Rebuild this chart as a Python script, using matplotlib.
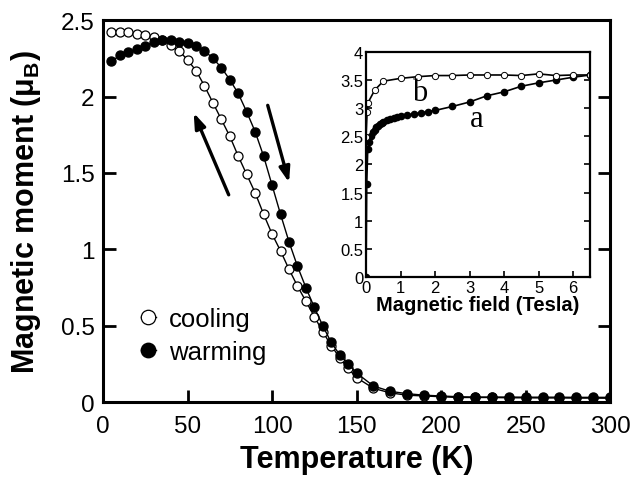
import matplotlib
matplotlib.use("Agg")
import matplotlib.pyplot as plt
from matplotlib.ticker import FuncFormatter

plt.rcParams['font.family'] = ['Liberation Sans', 'DejaVu Sans']
plt.rcParams['mathtext.fontset'] = 'custom'
plt.rcParams['mathtext.rm'] = 'Liberation Sans'
plt.rcParams['mathtext.bf'] = 'Liberation Sans:bold'

# main panel: magnetic moment vs temperature
temp_cool = [5, 10, 15, 20, 25, 30, 35, 40, 45, 50, 55, 60, 65, 70, 75, 80, 85, 90,
             95, 100, 105, 110, 115, 120, 125, 130, 135, 140, 145, 150,
             160, 170, 180, 190, 200, 210, 220, 230, 240, 250, 260, 270, 280, 290, 300]
m_cool = [2.42, 2.42, 2.42, 2.41, 2.40, 2.39, 2.37, 2.34, 2.30, 2.24, 2.17, 2.07, 1.96,
          1.85, 1.74, 1.61, 1.49, 1.37, 1.23, 1.10, 0.99, 0.87, 0.76, 0.66, 0.56, 0.46,
          0.37, 0.29, 0.22, 0.16,
          0.09, 0.06, 0.045, 0.04, 0.035, 0.03, 0.03, 0.03, 0.028, 0.028, 0.027, 0.027,
          0.026, 0.026, 0.025]

temp_warm = [5, 10, 15, 20, 25, 30, 35, 40, 45, 50, 55, 60, 65, 70, 75, 80, 85, 90,
             95, 100, 105, 110, 115, 120, 125, 130, 135, 140, 145, 150,
             160, 170, 180, 190, 200, 210, 220, 230, 240, 250, 260, 270, 280, 290, 300]
m_warm = [2.23, 2.27, 2.29, 2.31, 2.33, 2.36, 2.37, 2.37, 2.36, 2.35, 2.33, 2.30, 2.25,
          2.19, 2.11, 2.02, 1.90, 1.77, 1.61, 1.42, 1.23, 1.05, 0.89, 0.75, 0.62, 0.50,
          0.39, 0.31, 0.25, 0.19,
          0.105, 0.07, 0.055, 0.045, 0.04, 0.035, 0.033, 0.033, 0.033, 0.032, 0.032,
          0.032, 0.031, 0.031, 0.031]

# inset: magnetization vs field
field_a = [0, 0.02, 0.05, 0.1, 0.15, 0.2, 0.25, 0.3, 0.35, 0.4, 0.45, 0.5, 0.6, 0.7,
           0.8, 0.9, 1.0, 1.2, 1.4, 1.6, 1.8, 2.0, 2.5, 3.0, 3.5, 4.0, 4.5, 5.0, 5.5,
           6.0, 6.5]
m_a = [0, 1.66, 2.27, 2.40, 2.50, 2.57, 2.62, 2.66, 2.69, 2.72, 2.74, 2.76, 2.79, 2.81,
       2.83, 2.85, 2.86, 2.88, 2.90, 2.92, 2.94, 2.96, 3.03, 3.11, 3.22, 3.29, 3.39,
       3.45, 3.50, 3.55, 3.59]

field_b = [0, 0.03, 0.06, 0.25, 0.5, 1.0, 1.5, 2.0, 2.5, 3.0, 3.5, 4.0, 4.5, 5.0, 5.5,
           6.0, 6.5]
m_b = [2.48, 2.93, 3.10, 3.32, 3.48, 3.53, 3.56, 3.58, 3.58, 3.59, 3.59, 3.59, 3.58,
       3.61, 3.58, 3.59, 3.59]

fig = plt.figure(figsize=(6.3, 4.81), dpi=100)
ax = fig.add_axes([0.1635, 0.162, 0.805, 0.794])

ax.plot(temp_cool, m_cool, '-o', color='black', lw=1.0, ms=6.5,
        mfc='white', mec='black', mew=0.9, label='cooling')
ax.plot(temp_warm, m_warm, '-o', color='black', lw=1.0, ms=6.5,
        mfc='black', mec='black', label='warming')

ax.set_xlim(0, 300)
ax.set_ylim(0, 2.5)
ax.set_xticks(range(0, 301, 50))
ax.set_yticks([0, 0.5, 1, 1.5, 2, 2.5])
ax.yaxis.set_major_formatter(FuncFormatter(lambda v, p: '%g' % v))
ax.tick_params(direction='in', length=9, width=2, labelsize=17.5, right=True)
ax.tick_params(axis='x', pad=9)
ax.tick_params(axis='y', pad=6)
for s in ax.spines.values():
    s.set_linewidth(2.2)
ax.set_xlabel('Temperature (K)', fontsize=22, fontweight='bold', labelpad=5)
ax.set_ylabel(r'Magnetic moment (μ$_\mathbf{B}$)', fontsize=22, fontweight='bold', labelpad=13)

ax.legend(loc='upper left', bbox_to_anchor=(0.074, 0.25), frameon=False, fontsize=18.5,
          markerscale=1.6, handlelength=0.6, handletextpad=0.5, labelspacing=0.38,
          borderpad=0, borderaxespad=0)

# heating / cooling arrows
ax.annotate('', xy=(53, 1.91), xytext=(75, 1.34),
            arrowprops=dict(arrowstyle='-|>,head_length=0.9,head_width=0.32',
                            color='black', lw=2.4))
ax.annotate('', xy=(110.5, 1.42), xytext=(97, 1.96),
            arrowprops=dict(arrowstyle='-|>,head_length=0.9,head_width=0.32',
                            color='black', lw=2.4))

# inset
ins = fig.add_axes([0.581, 0.422, 0.356, 0.468])
ins.plot(field_a, m_a, '-o', color='black', lw=1.2, ms=4.5, mfc='black', mec='black')
ins.plot(field_b, m_b, '-o', color='black', lw=1.2, ms=4.5, mfc='white', mec='black', mew=0.7)
ins.set_xlim(0, 6.5)
ins.set_ylim(0, 4)
ins.set_xticks(range(0, 7))
ins.set_yticks([0, 0.5, 1, 1.5, 2, 2.5, 3, 3.5, 4])
ins.yaxis.set_major_formatter(FuncFormatter(lambda v, p: '%g' % v))
ins.tick_params(direction='in', length=4, width=1.2, labelsize=12, right=True, pad=2)
for s in ins.spines.values():
    s.set_linewidth(1.6)
ins.set_xlabel('Magnetic field (Tesla)', fontsize=14.5, fontweight='bold', labelpad=0)
ins.text(1.55, 3.27, 'b', fontsize=22, family='Liberation Serif', ha='center', va='center')
ins.text(3.2, 2.81, 'a', fontsize=22, family='Liberation Serif', ha='center', va='center')

fig.savefig('out.png', dpi=100)
